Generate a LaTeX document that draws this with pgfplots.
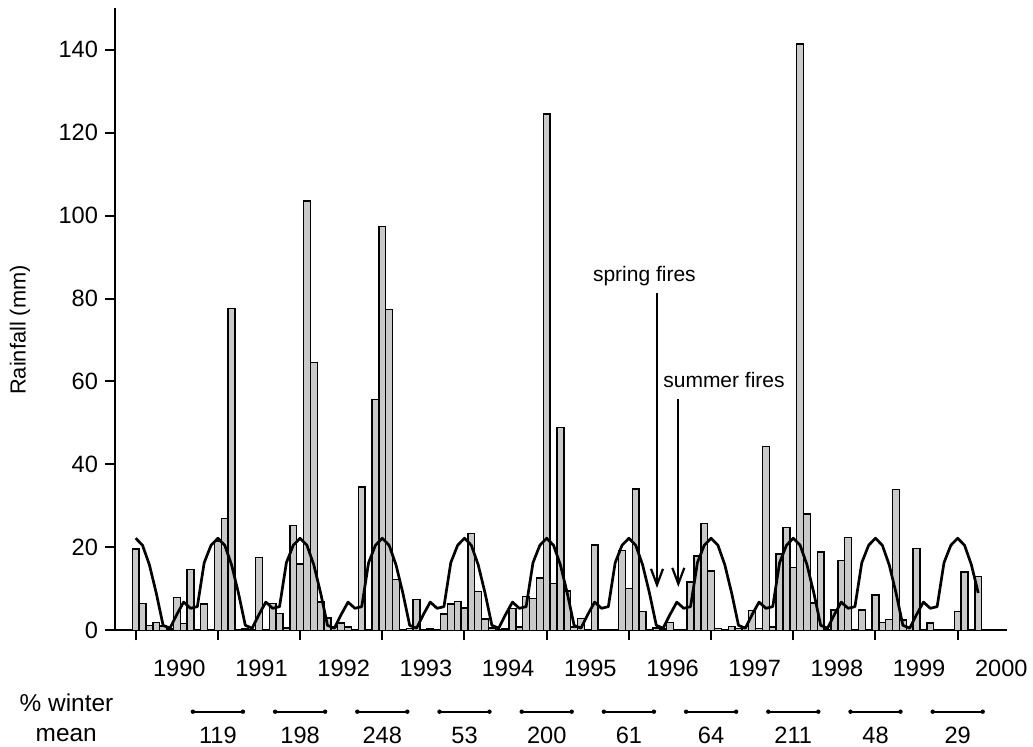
\documentclass[border=0pt]{standalone}
\usepackage{fontspec}
\setmainfont{Liberation Sans}
\usepackage{pgfplots}
\pgfplotsset{compat=1.18}
\usepackage{pgfplotstable}
\usetikzlibrary{arrows.meta}
\newcommand\fs{\fontsize{11.8}{14}\selectfont}
\newcommand\fa{\fontsize{10.5}{12}\selectfont}
\newcommand\fw{\fontsize{12.2}{14}\selectfont}
\newcommand\fr{\fontsize{10.9}{13}\selectfont}

\pgfplotstableread{
m r
0 19.6
1 6.4
2 1.2
3 1.9
4 1.0
5 0.3
6 7.9
7 1.6
8 14.6
9 0
10 6.3
11 0
12 21.5
13 27.0
14 77.6
15 0
16 0.3
17 0.2
18 17.6
19 0
20 6.4
21 4.1
22 0.6
23 25.2
24 16.0
25 103.5
26 64.6
27 6.8
28 3.0
29 0.8
30 1.8
31 0.8
32 0
33 34.6
34 0
35 55.7
36 97.4
37 77.4
38 12.3
39 0
40 0.4
41 7.4
42 0
43 0.3
44 0
45 3.9
46 6.3
47 7.0
48 5.4
49 23.3
50 9.4
51 2.7
52 0.6
53 0
54 0.3
55 5.3
56 0.8
57 8.1
58 7.6
59 12.6
60 124.5
61 11.3
62 48.9
63 9.5
64 0.8
65 2.9
66 0
67 20.6
68 0
69 0
70 0
71 19.3
72 10.1
73 34.1
74 4.6
75 0
76 0.6
77 0.3
78 1.9
79 0.2
80 0
81 11.6
82 17.9
83 25.7
84 14.3
85 0.5
86 0
87 0.9
88 0.4
89 0.9
90 4.7
91 0.4
92 44.3
93 0.8
94 18.4
95 24.8
96 15.1
97 141.4
98 28.0
99 6.6
100 18.9
101 0
102 4.9
103 16.8
104 22.4
105 0
106 4.9
107 0
108 8.5
109 1.9
110 2.6
111 34.0
112 2.5
113 0.9
114 19.7
115 0
116 1.8
117 0
118 0
119 0
120 4.5
121 14.1
122 0
123 12.9
}\rain

\pgfplotstableread{
m c
0 22.2
1 20.5
2 15.8
3 9.0
4 1.2
5 0.5
6 3.8
7 6.8
8 5.3
9 5.7
10 16.3
11 20.5
12 22.2
13 20.5
14 15.8
15 9.0
16 1.2
17 0.5
18 3.8
19 6.8
20 5.3
21 5.7
22 16.3
23 20.5
24 22.2
25 20.5
26 15.8
27 9.0
28 1.2
29 0.5
30 3.8
31 6.8
32 5.3
33 5.7
34 16.3
35 20.5
36 22.2
37 20.5
38 15.8
39 9.0
40 1.2
41 0.5
42 3.8
43 6.8
44 5.3
45 5.7
46 16.3
47 20.5
48 22.2
49 20.5
50 15.8
51 9.0
52 1.2
53 0.5
54 3.8
55 6.8
56 5.3
57 5.7
58 16.3
59 20.5
60 22.2
61 20.5
62 15.8
63 9.0
64 1.2
65 0.5
66 3.8
67 6.8
68 5.3
69 5.7
70 16.3
71 20.5
72 22.2
73 20.5
74 15.8
75 9.0
76 1.2
77 0.5
78 3.8
79 6.8
80 5.3
81 5.7
82 16.3
83 20.5
84 22.2
85 20.5
86 15.8
87 9.0
88 1.2
89 0.5
90 3.8
91 6.8
92 5.3
93 5.7
94 16.3
95 20.5
96 22.2
97 20.5
98 15.8
99 9.0
100 1.2
101 0.5
102 3.8
103 6.8
104 5.3
105 5.7
106 16.3
107 20.5
108 22.2
109 20.5
110 15.8
111 9.0
112 1.2
113 0.5
114 3.8
115 6.8
116 5.3
117 5.7
118 16.3
119 20.5
120 22.2
121 20.5
122 15.8
123 9.0
}\clim

\begin{document}
\begin{tikzpicture}
\path[use as bounding box] (0,0) rectangle (516.5pt,373.5pt);
\begin{axis}[
  at={(57.5pt,58.35pt)}, anchor=south west,
  scale only axis, width=446pt, height=311pt,
  xmin=-3.02, xmax=127.2, ymin=0, ymax=150,
  axis lines*=left,
  axis line style={line width=1.2pt},
  xtick={0,12,...,120}, xticklabels={},
  ytick={0,20,...,140},
  tick align=outside, major tick length=5pt,
  tick style={line width=1pt, black},
  tick label style={font=\fs},
  /pgf/number format/assume math mode=true,
  clip=false,
]
\addplot[ybar, bar width=1, fill=gray!42, draw=black, line width=0.7pt] table[x=m,y=r]{\rain};
\addplot[sharp plot, black, line width=1.35pt, line join=round, no marks] table[x=m,y=c]{\clim};
\end{axis}
\node[rotate=90, font=\fr] at (10pt,208.5pt) {Rainfall (mm)};
\foreach \k/\y in {0/1990,1/1991,2/1992,3/1993,4/1994,5/1995,6/1996,7/1997,8/1998,9/1999,10/2000}
  \node[anchor=base, font=\fs, inner sep=0pt] at ({(89.65+41.1*\k)*1pt},35pt) {\y};
\node[anchor=base, font=\fw, inner sep=0pt] at (33.25pt,17.65pt) {\% winter};
\node[anchor=base, font=\fw, inner sep=0pt] at (33.1pt,2.65pt) {mean};
\foreach \k/\n in {0/119,1/198,2/248,3/53,4/200,5/61,6/64,7/211,8/48,9/29} {
  \draw[line width=1pt] ({(96.45+41.1*\k)*1pt},17.65pt) -- ({(121.45+41.1*\k)*1pt},17.65pt);
  \fill ({(96.45+41.1*\k)*1pt},17.65pt) circle (1.1pt);
  \fill ({(121.45+41.1*\k)*1pt},17.65pt) circle (1.1pt);
  \node[anchor=base, font=\fs, inner sep=0pt] at ({(108.95+41.1*\k)*1pt},1.85pt) {\n};
}
\node[anchor=base, font=\fa, inner sep=0pt] at (322.2pt,232.75pt) {spring fires};
\draw[line width=1.1pt, -{Straight Barb[length=8pt,width=6pt]}] (328.5pt,227pt) -- (328.5pt,79.5pt);
\node[anchor=base, font=\fa, inner sep=0pt] at (362pt,179.65pt) {summer fires};
\draw[line width=1.1pt, -{Straight Barb[length=8pt,width=6pt]}] (339.15pt,174pt) -- (339.15pt,80pt);
\end{tikzpicture}
\end{document}
